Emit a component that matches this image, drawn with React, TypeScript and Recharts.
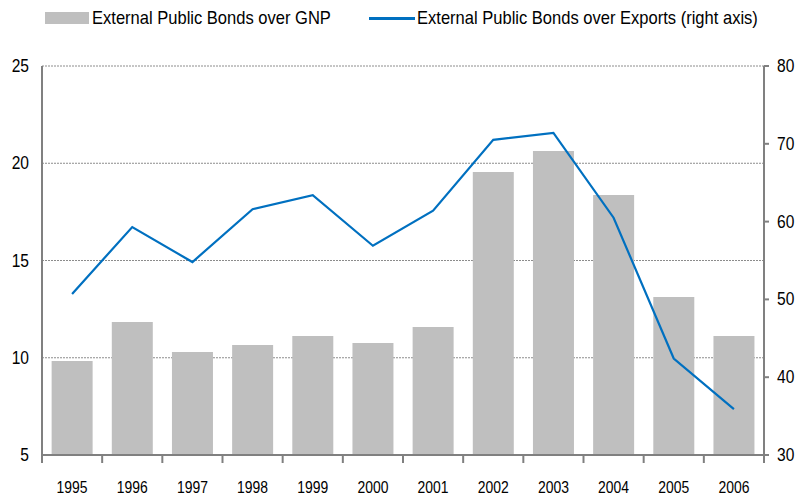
import { ComposedChart, Bar, Line, XAxis, YAxis, CartesianGrid } from 'recharts';

const years = ['1995', '1996', '1997', '1998', '1999', '2000', '2001', '2002', '2003', '2004', '2005', '2006'];
// % of GNP (left axis)
const bondsOverGnp = [9.83, 11.84, 10.3, 10.66, 11.12, 10.76, 11.58, 19.55, 20.63, 18.37, 13.12, 11.12];
// % of exports (right axis)
const bondsOverExports = [50.7, 59.3, 54.8, 61.6, 63.4, 56.9, 61.4, 70.5, 71.4, 60.5, 42.4, 35.9];
const leftTicks = [5, 10, 15, 20, 25];
const rightTicks = [30, 40, 50, 60, 70, 80];

const data = years.map((year, i) => ({
  year,
  gnp: bondsOverGnp[i],
  exports: bondsOverExports[i],
}));

const FONT = '"Liberation Sans", Arial, sans-serif';
const AXIS = '#808080';
const SQUEEZE = 0.82; // fake an Arial Narrow look

const NarrowText = ({ x, y, anchor, size, children }: any) => (
  <text
    transform={`translate(${x},${y}) scale(${SQUEEZE},1)`}
    textAnchor={anchor}
    fill="#000"
    fontSize={size}
    fontFamily={FONT}
  >
    {children}
  </text>
);

// year label at category centre, tick mark on the boundaries between categories
const YearTick = (props: any) => {
  const { x, y, payload, width, visibleTicksCount, index } = props;
  const step = width / visibleTicksCount;
  const left = x - step / 2;
  return (
    <g>
      <line x1={left} y1={y - 8} x2={left} y2={y} stroke={AXIS} strokeWidth={2} />
      {index === visibleTicksCount - 1 && (
        <line x1={x + step / 2} y1={y - 8} x2={x + step / 2} y2={y} stroke={AXIS} strokeWidth={2} />
      )}
      <NarrowText x={x} y={y + 30} anchor="middle" size={17}>
        {payload.value}
      </NarrowText>
    </g>
  );
};

const LeftTick = (props: any) => {
  const { x, y, payload } = props;
  return (
    <NarrowText x={x} y={y + 6} anchor="end" size={19}>
      {payload.value}
    </NarrowText>
  );
};

const RightTick = (props: any) => {
  const { x, y, payload } = props;
  return (
    <NarrowText x={x} y={y + 6} anchor="start" size={19}>
      {payload.value}
    </NarrowText>
  );
};

const legendText = { display: 'inline-block', transform: 'scaleX(0.87)', transformOrigin: 'left center', whiteSpace: 'nowrap' as const };

export default function App() {
  return (
    <div style={{ position: 'absolute', left: 0, top: 0, width: 796, height: 495, background: '#fff', fontFamily: FONT }}>
      {/* legend */}
      <div style={{ position: 'absolute', left: 45, top: 7, height: 22, width: 760, fontSize: 19, color: '#000' }}>
        <span style={{ position: 'absolute', left: 0, top: 5, width: 44, height: 12, background: '#bfbfbf' }} />
        <span style={{ ...legendText, position: 'absolute', left: 47, top: 0 }}>External Public Bonds over GNP</span>
        <span style={{ position: 'absolute', left: 324, top: 10, width: 46, height: 3, background: '#0070c0' }} />
        <span style={{ ...legendText, position: 'absolute', left: 372, top: 0 }}>External Public Bonds over Exports (right axis)</span>
      </div>
      <ComposedChart
        width={796}
        height={495}
        data={data}
        margin={{ top: 66, right: 0, bottom: 0, left: 0 }}
        barCategoryGap="16%"
      >
        <CartesianGrid vertical={false} stroke="#8c8c8c" strokeDasharray="2 1" yAxisId="left" />
        <XAxis
          dataKey="year"
          height={40}
          axisLine={{ stroke: AXIS, strokeWidth: 2 }}
          tickLine={false}
          tick={<YearTick />}
          interval={0}
        />
        <YAxis
          yAxisId="left"
          domain={[5, 25]}
          ticks={leftTicks}
          width={42}
          axisLine={{ stroke: AXIS, strokeWidth: 2 }}
          tickLine={false}
          tick={<LeftTick />}
          tickMargin={7}
          interval={0}
        />
        <YAxis
          yAxisId="right"
          orientation="right"
          domain={[30, 80]}
          ticks={rightTicks}
          width={32}
          axisLine={{ stroke: AXIS, strokeWidth: 2 }}
          tickLine={{ stroke: AXIS, strokeWidth: 2 }}
          tickSize={5}
          tick={<RightTick />}
          tickMargin={8}
          interval={0}
        />
        <Bar yAxisId="left" dataKey="gnp" fill="#bfbfbf" isAnimationActive={false} />
        <Line
          yAxisId="right"
          dataKey="exports"
          stroke="#0070c0"
          strokeWidth={2.2}
          dot={false}
          type="linear"
          isAnimationActive={false}
        />
      </ComposedChart>
    </div>
  );
}
